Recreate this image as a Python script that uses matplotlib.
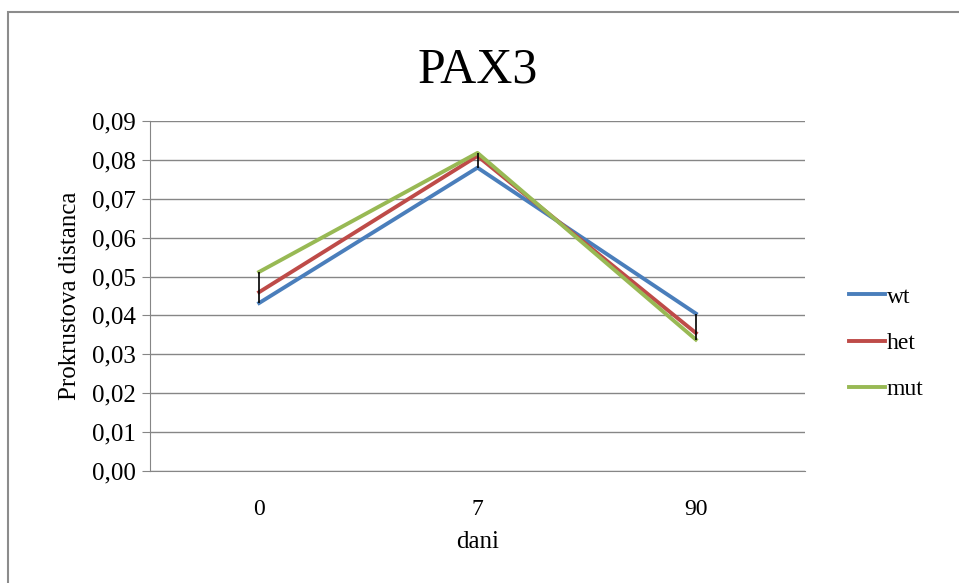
import matplotlib.pyplot as plt
from matplotlib.patches import Rectangle
from matplotlib.ticker import FuncFormatter

days = ['0', '7', '90']
wt = [0.0432, 0.0780, 0.0405]
het = [0.0460, 0.0810, 0.0355]
mut = [0.0512, 0.0818, 0.0338]
series_names = ['wt', 'het', 'mut']
colors = ['#4a7ebb', '#be4b48', '#98b954']

plt.rcParams['font.family'] = ['Liberation Serif', 'DejaVu Serif']

fig = plt.figure(figsize=(9.59, 5.83), dpi=100)
# outer chart border (right/bottom edges fall outside the picture)
fig.patches.append(Rectangle((8/959, -0.05), 1.1, 1.05 - 12/583, transform=fig.transFigure,
                             fill=False, edgecolor='#8c8c8c', linewidth=1.5))

ax = fig.add_axes([150/959, 1 - 471/583, 655/959, 350/583])
x = range(len(days))

# high-low lines
for i in x:
    vals = [wt[i], het[i], mut[i]]
    ax.vlines(i, min(vals), max(vals), color='black', linewidth=1.2, zorder=4)

for vals, name, c in zip([wt, het, mut], series_names, colors):
    ax.plot(x, vals, color=c, linewidth=2.8, label=name, zorder=3)

ax.set_xlim(-0.5, 2.5)
ax.set_ylim(0, 0.09)
ax.set_yticks([i / 100 for i in range(10)])
ax.yaxis.set_major_formatter(FuncFormatter(lambda v, p: f'{v:.2f}'.replace('.', ',')))
ax.set_xticks(list(x))
ax.set_xticklabels(days)
ax.grid(axis='y', color='#868686', linewidth=1)
ax.set_axisbelow(True)
for s in ['top', 'right']:
    ax.spines[s].set_visible(False)
ax.spines['left'].set_color('#868686')
ax.spines['bottom'].set_color('#868686')
ax.tick_params(axis='y', length=6, color='#868686', labelsize=18, pad=4)
ax.tick_params(axis='x', length=0, labelsize=17, pad=20)

ax.set_title('PAX3', fontsize=36, pad=28)
ax.set_xlabel('dani', fontsize=18, labelpad=8)
ax.set_ylabel('Prokrustova distanca', fontsize=18, labelpad=8)

ax.legend(loc='center left', bbox_to_anchor=(1.035, 0.365), frameon=False,
          fontsize=17, handlelength=1.5, labelspacing=1.05, handletextpad=0.1)

fig.savefig('out.png', dpi=100)
